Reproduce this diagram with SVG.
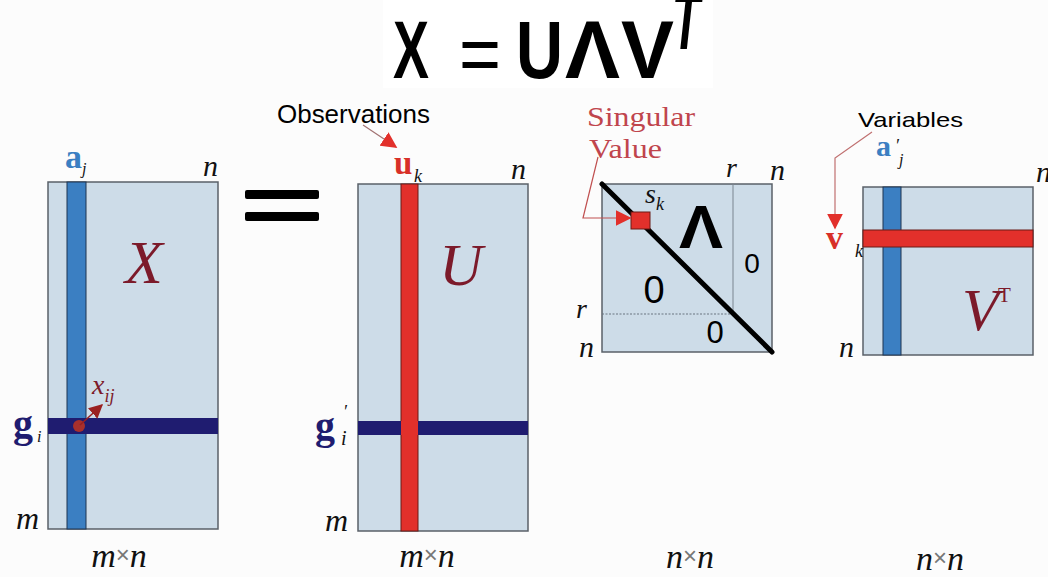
<svg xmlns="http://www.w3.org/2000/svg" width="1048" height="577" viewBox="0 0 1048 577">
<defs>
<style>
.mat{fill:#cddce8;stroke:#5a6068;stroke-width:1.5}
.blue{fill:#3b7fc2;stroke:#1f3550;stroke-width:1}
.red{fill:#e2302b;stroke:#6a1a16;stroke-width:1}
.navy{fill:#1f1c70}
.ser{font-family:"Liberation Serif","Times New Roman",serif}
.it{font-family:"Liberation Serif","Times New Roman",serif;font-style:italic;fill:#111}
.big{font-family:"Liberation Serif","Times New Roman",serif;font-style:italic;fill:#7c1a2a}
.sans{font-family:"Liberation Sans",Arial,sans-serif}
.title{font-family:"Liberation Sans",Arial,sans-serif;font-weight:bold;font-size:81px;fill:#000}
.eq{font-family:"Liberation Sans",Arial,sans-serif;font-weight:normal;font-size:81px;fill:#000}
.zero{font-family:"Liberation Sans",Arial,sans-serif;fill:#000}
.tim{fill:#777;font-family:"Liberation Sans",sans-serif;font-style:normal}
</style>
<marker id="ahBig" viewBox="0 0 10 10" refX="9" refY="5" markerWidth="16" markerHeight="16" markerUnits="userSpaceOnUse" orient="auto"><path d="M0,0 L10,5 L0,10 z" fill="#e2302b"/></marker>
<marker id="ahDark" viewBox="0 0 10 10" refX="9" refY="5" markerWidth="14" markerHeight="14" markerUnits="userSpaceOnUse" orient="auto"><path d="M0,0 L10,5 L0,10 z" fill="#9a2020"/></marker>
</defs>
<rect width="1048" height="577" fill="#fcfcfc"/>
<rect x="383" y="0" width="330" height="88" fill="#ffffff"/>

<g id="title">
<text class="title" x="393" y="78" textLength="36" lengthAdjust="spacingAndGlyphs">X</text>
<text class="eq" x="459" y="82" textLength="42" lengthAdjust="spacingAndGlyphs">=</text>
<text class="title" x="516" y="78" textLength="47" lengthAdjust="spacingAndGlyphs">U</text>
<text class="title" x="565" y="78" textLength="55" lengthAdjust="spacingAndGlyphs">Λ</text>
<text class="title" x="621" y="78" textLength="53" lengthAdjust="spacingAndGlyphs">V</text>
<text class="title" x="672" y="49" font-size="46" font-style="italic" textLength="28" lengthAdjust="spacingAndGlyphs">T</text>
</g>

<g id="matrix-X">
<rect class="mat" x="48" y="182" width="170" height="347"/>
<rect class="blue" x="67" y="182" width="19" height="347"/>
<rect class="navy" x="48" y="418" width="170" height="16"/>
<text class="big" x="144" y="283" font-size="62" text-anchor="middle">X</text>
<text class="ser" x="65" y="168" font-size="34" font-weight="bold" fill="#3b7fc2">a</text>
<text class="it" x="82" y="174" font-size="16" fill="#3b7fc2">j</text>
<text class="it" x="203" y="176" font-size="30">n</text>
<text class="ser" x="13" y="437" font-size="40" font-weight="bold" fill="#1f1c70">g</text>
<text class="it" x="37" y="442" font-size="16" fill="#1f1c70">i</text>
<text class="it" x="16" y="529" font-size="32">m</text>
<text class="it" x="119" y="567" font-size="34" text-anchor="middle">m<tspan class="tim" font-size="24" dy="-4">×</tspan><tspan dy="4">n</tspan></text>
<circle cx="79" cy="426" r="6" fill="#a8302c"/>
<text class="big" x="92" y="394" font-size="28" fill="#8a1e2a">x<tspan font-size="18" dy="8">ij</tspan></text>
</g>

<g id="equals">
<rect x="245" y="190" width="74" height="9" rx="2" fill="#000"/>
<rect x="245" y="212" width="74" height="9" rx="2" fill="#000"/>
</g>

<g id="matrix-U">
<rect class="mat" x="358" y="184" width="170" height="347"/>
<rect class="red" x="401" y="184" width="17" height="347"/>
<rect class="navy" x="358" y="421" width="170" height="14"/>
<rect class="red" x="401" y="421" width="17" height="14" style="stroke:none"/>
<text class="big" x="461" y="285" font-size="60" text-anchor="middle">U</text>
<text class="ser" x="394" y="174" font-size="33" font-weight="bold" fill="#d83028">u</text>
<text class="it" x="414" y="182" font-size="18" fill="#d85050">k</text>
<text class="it" x="511" y="179" font-size="30">n</text>
<text class="ser" x="315" y="439" font-size="40" font-weight="bold" fill="#1f1c70">g</text>
<text class="it" x="343" y="418" font-size="18" fill="#1f1c70">′</text>
<text class="it" x="341" y="445" font-size="20" fill="#1f1c70">i</text>
<text class="it" x="325" y="531" font-size="32">m</text>
<text class="it" x="427" y="567" font-size="34" text-anchor="middle">m<tspan class="tim" font-size="24" dy="-4">×</tspan><tspan dy="4">n</tspan></text>
<text class="sans" x="277" y="123" font-size="25" fill="#000" textLength="153" lengthAdjust="spacingAndGlyphs">Observations</text>
</g>

<g id="matrix-Lambda">
<rect class="mat" x="602" y="184" width="170" height="168"/>
<line x1="733" y1="184" x2="733" y2="314" stroke="#7a8590" stroke-width="1"/>
<line x1="602" y1="314" x2="733" y2="314" stroke="#6a7580" stroke-width="1.2" stroke-dasharray="2,1.5"/>
<line x1="602" y1="184" x2="772" y2="352" stroke="#000" stroke-width="5" stroke-linecap="round"/>
<rect class="red" x="631" y="212" width="19" height="17"/>
<text class="zero" x="701" y="248" font-size="62" font-weight="bold" text-anchor="middle" textLength="44" lengthAdjust="spacingAndGlyphs">Λ</text>
<text class="zero" x="654" y="303" font-size="38" text-anchor="middle">0</text>
<text class="zero" x="752" y="273" font-size="28" text-anchor="middle">0</text>
<text class="zero" x="715" y="343" font-size="31" text-anchor="middle">0</text>
<text class="it" x="645" y="203" font-size="28" fill="#d8505a">s<tspan font-size="18" dy="7">k</tspan></text>
<text class="it" x="726" y="177" font-size="28">r</text>
<text class="it" x="770" y="180" font-size="30">n</text>
<text class="it" x="576" y="318" font-size="28">r</text>
<text class="it" x="579" y="357" font-size="30">n</text>
<text class="ser" x="587" y="126" font-size="28" fill="#c0454d" textLength="108" lengthAdjust="spacingAndGlyphs">Singular</text>
<text class="ser" x="589" y="158" font-size="28" fill="#c0454d" textLength="73" lengthAdjust="spacingAndGlyphs">Value</text>
<text class="it" x="690" y="568" font-size="34" text-anchor="middle">n<tspan class="tim" font-size="24" dy="-4">×</tspan><tspan dy="4">n</tspan></text>
</g>

<g id="matrix-VT">
<rect class="mat" x="863" y="187" width="170" height="168"/>
<rect class="blue" x="883" y="187" width="18" height="168"/>
<rect class="red" x="863" y="230" width="170" height="17"/>
<text class="big" x="962" y="330" font-size="60">V</text>
<text class="ser" x="998" y="302" font-size="21" fill="#7c1a2a">T</text>
<text class="ser" x="876" y="156" font-size="30" font-weight="bold" fill="#3b7fc2">a</text>
<text class="it" x="895" y="152" font-size="18" fill="#3b7fc2">′</text>
<text class="it" x="899" y="165" font-size="16" fill="#3b7fc2">j</text>
<text class="ser" x="826" y="249" font-size="34" font-weight="bold" fill="#d83028">v</text>
<text class="it" x="855" y="257" font-size="18" fill="#d85050">k</text>
<text class="it" x="1036" y="182" font-size="30">n</text>
<text class="it" x="839" y="357" font-size="30">n</text>
<text class="sans" x="858" y="127" font-size="21" fill="#000" textLength="105" lengthAdjust="spacingAndGlyphs">Variables</text>
<text class="it" x="940" y="570" font-size="34" text-anchor="middle">n<tspan class="tim" font-size="24" dy="-4">×</tspan><tspan dy="4">n</tspan></text>
</g>

<g id="connectors" fill="none">
<line x1="363" y1="125" x2="396" y2="147" stroke="#a07070" stroke-width="1.2" marker-end="url(#ahBig)"/>
<polyline points="598,157 583,218 630,218" stroke="#c05050" stroke-width="1.2" marker-end="url(#ahBig)"/>
<polyline points="872,132 835,158 835,228" stroke="#c07070" stroke-width="1.2" marker-end="url(#ahBig)"/>
<line x1="80" y1="425" x2="102" y2="405" stroke="#9a2020" stroke-width="1.5" marker-end="url(#ahDark)"/>
</g>
</svg>
